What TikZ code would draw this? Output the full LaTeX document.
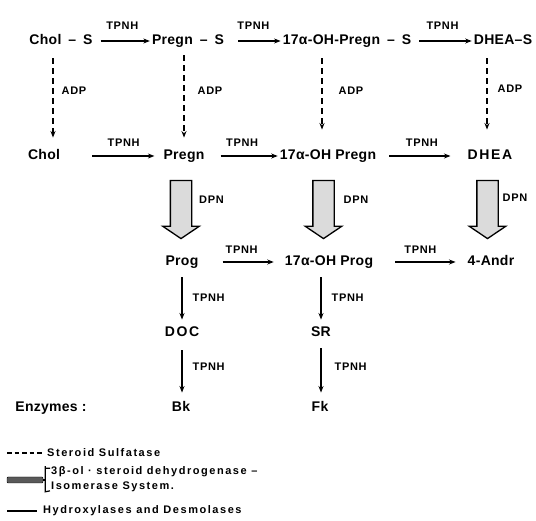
\documentclass[tikz,border=0pt]{standalone}
\usepackage{fontspec}
\newfontfamily\lettering{Liberation Sans}[LetterSpace=2]
\newfontfamily\labelling{Liberation Sans}[LetterSpace=6]
\newfontfamily\keying{Liberation Sans}[LetterSpace=14]
\usetikzlibrary{arrows.meta,positioning,calc,shapes.arrows}

\begin{document}
\begin{tikzpicture}[x=1pt,y=-1pt,
  >={Stealth[length=6.5pt,width=5pt]},
  met/.style={font=\lettering\bfseries\fontsize{14}{16}\selectfont, inner sep=2pt, text height=10pt, text depth=2.5pt},
  enz/.style={font=\labelling\bfseries\fontsize{11}{13}\selectfont, inner sep=1pt},
  key/.style={font=\keying\bfseries\fontsize{11}{15}\selectfont, inner sep=0pt, anchor=west, align=left},
  hyd/.style={->, line width=1.4pt},
  sulf/.style={->, line width=1.4pt, dash pattern=on 6pt off 4pt},
  hsd/.style={single arrow, draw, line width=1.3pt, fill=black!14, rotate=-90, inner sep=10pt,
    minimum height=58pt, single arrow head extend=7.5pt, single arrow tip angle=112},
]
\useasboundingbox (0,0) rectangle (536,521);
% sulfates
\node[met] (CholS)    at (61,41)  {Chol\enspace–\enspace S};
\node[met] (PregnS)   at (188,41) {Pregn\enspace–\enspace S};
\node[met] (OHPregnS) at (347,41) {17α-OH-Pregn\enspace–\enspace S};
\node[met] (DHEAS)    at (503,41) {DHEA–S};
% free steroids
\node[met] (Chol)    at (44,156)  {Chol};
\node[met] (Pregn)   at (184,156) {Pregn};
\node[met] (OHPregn) at (328,156) {17α-OH Pregn};
\node[met] (DHEA)    at (490,156) {\addfontfeature{LetterSpace=12}DHEA};
\node[met] (Prog)    at (182,262) {Prog};
\node[met] (OHProg)  at (329,262) {17α-OH Prog};
\node[met] (Andr)    at (491,262) {4-Andr};
\node[met] (DOC)     at (182,333) {\addfontfeature{LetterSpace=12}DOC};
\node[met] (SR)      at (321,333) {SR};
\node[met] (Bk)      at (181,408) {Bk};
\node[met] (Fk)      at (320,408) {Fk};
\node[met] (Enzymes) at (51,408)  {Enzymes\ :};
% side chain cleavage, 17-hydroxylation, desmolase
\draw[hyd, shorten <=6pt]  (CholS) -- (PregnS) node[enz, midway, above=10pt] {TPNH};
\draw[hyd, shorten <=12pt] (PregnS) -- (OHPregnS) node[enz, midway, above=10pt] {TPNH};
\draw[hyd, shorten <=6pt]  (OHPregnS) -- (DHEAS) node[enz, midway, above=10pt] {TPNH};
\draw[hyd, shorten <=30pt, shorten >=7pt] (Chol) -- (Pregn) node[enz, pos=0.62, above=8pt] {TPNH};
\draw[hyd, shorten <=14pt] (Pregn) -- (OHPregn) node[enz, midway, above=8pt] {TPNH};
\draw[hyd, shorten <=11pt, shorten >=15pt] (OHPregn) -- (DHEA) node[enz, midway, above=8pt] {TPNH};
\draw[hyd, shorten <=22pt, shorten >=9pt] (Prog) -- (OHProg) node[enz, midway, above=7pt] {TPNH};
\draw[hyd, shorten <=20pt, shorten >=10pt] (OHProg) -- (Andr) node[enz, midway, above=7pt] {TPNH};
% sulfatase
\draw[sulf, shorten <=9pt, shorten >=10pt] ([xshift=9pt]Chol.north |- CholS.south) -- ([xshift=9pt]Chol.north)
  node[enz, pos=0.42, right=7pt] {ADP};
\draw[sulf, shorten <=6pt, shorten >=10pt] (Pregn.north |- PregnS.south) -- (Pregn.north)
  node[enz, pos=0.42, right=12pt] {ADP};
\draw[sulf, shorten <=9pt, shorten >=18pt] ([xshift=-6pt]OHPregn.north |- OHPregnS.south) -- ([xshift=-6pt]OHPregn.north)
  node[enz, pos=0.42, right=15pt] {ADP};
\draw[sulf, shorten <=9pt, shorten >=18pt] ([xshift=-3pt]DHEA.north |- DHEAS.south) -- ([xshift=-3pt]DHEA.north)
  node[enz, pos=0.40, right=9pt] {ADP};
% 3beta-ol dehydrogenase - isomerase
\node[hsd] (hsdA) at ($(Pregn)!0.5!(Prog)+(-2,-3)$) {};
\node[hsd] (hsdB) at ($(OHPregn)!0.5!(OHProg)+(-5,-3)$) {};
\node[hsd] (hsdC) at ($(DHEA)!0.5!(Andr)+(-3,-3)$) {};
\node[enz, anchor=west] at ($(hsdA)+(17,-6)$) {DPN};
\node[enz, anchor=west] at ($(hsdB)+(19,-6)$) {DPN};
\node[enz, anchor=west] at ($(hsdC)+(14,-8)$) {DPN};
% 21- and 11-hydroxylation
\draw[hyd, shorten <=7pt, shorten >=5pt] (Prog.south -| DOC) -- (DOC.north)
  node[enz, midway, right=9pt] {TPNH};
\draw[hyd, shorten <=9pt, shorten >=7pt] (DOC.south) -- (Bk.north -| DOC.south)
  node[enz, pos=0.43, right=9pt] {TPNH};
\draw[hyd, shorten <=7pt, shorten >=5pt] (SR.north |- OHProg.south) -- (SR.north)
  node[enz, midway, right=9pt] {TPNH};
\draw[hyd, shorten <=7pt, shorten >=7pt] (SR.south) -- (Fk.north -| SR.south)
  node[enz, pos=0.43, right=12pt] {TPNH};
% key
\coordinate (k1a) at (7,453);  \coordinate (k1b) at (43,453);
\draw[line width=1.4pt, dash pattern=on 4.5pt off 3pt] (k1a) -- (k1b);
\node[key] (sulfkey) at (47,453) {Steroid Sulfatase};
\node[draw, fill=black!65, rounded corners=1pt, minimum width=36pt, minimum height=6pt, inner sep=0pt] (hsdbox) at (25,480) {};
\node[key] (hsdkey) at (51,479) {3β-ol · steroid dehydrogenase –\\Isomerase System.};
\draw[line width=1.2pt] (hsdbox.east) -- ++(2,0) coordinate (brk);
\draw[line width=1.2pt] ($(hsdkey.north west)+(-1,2)$) -| (brk |- hsdkey.north) -- (brk |- hsdkey.south) -- ($(hsdkey.south west)+(-1,-1)$);
\coordinate (k3a) at (7,511);  \coordinate (k3b) at (37,511);
\draw[line width=1.4pt] (k3a) -- (k3b);
\node[key] (hydkey) at (43,511) {Hydroxylases and Desmolases};
\end{tikzpicture}
\end{document}
